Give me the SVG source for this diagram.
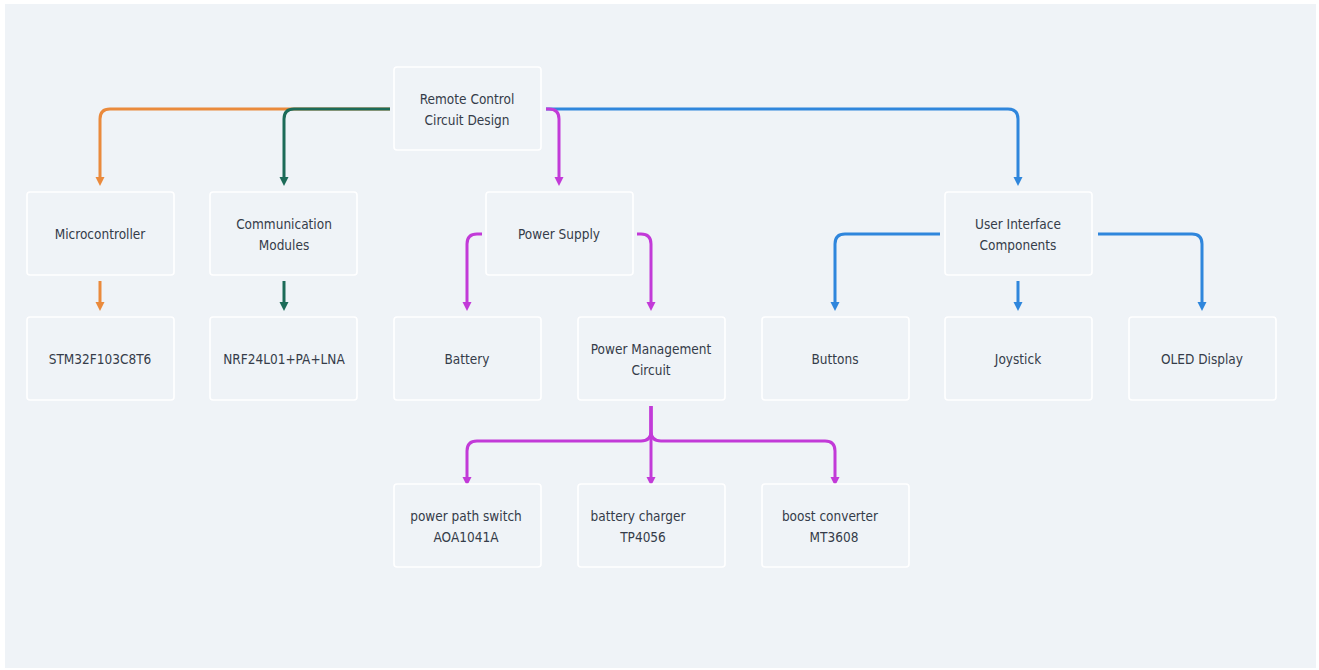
<svg xmlns="http://www.w3.org/2000/svg" width="1319" height="670" viewBox="0 0 1319 670">
<style>
.node rect{fill:#eff3f7;stroke:#ffffff;stroke-width:1.6}
.node text{font-family:"DejaVu Sans Condensed","DejaVu Sans",sans-serif;font-size:13.5px;fill:#353c49;text-anchor:middle}
.e{fill:none;stroke-width:3}
.o{stroke:#ea8a3c}.g{stroke:#1c6b58}.p{stroke:#c23ad8}.b{stroke:#2f86dc}
</style>
<defs>
<marker id="ao" markerUnits="userSpaceOnUse" markerWidth="12" markerHeight="12" refX="0" refY="6" orient="auto" viewBox="0 0 12 12"><path d="M0,1.5 L9,6 L0,10.5 Z" fill="#ea8a3c"/></marker>
<marker id="ag" markerUnits="userSpaceOnUse" markerWidth="12" markerHeight="12" refX="0" refY="6" orient="auto" viewBox="0 0 12 12"><path d="M0,1.5 L9,6 L0,10.5 Z" fill="#1c6b58"/></marker>
<marker id="ap" markerUnits="userSpaceOnUse" markerWidth="12" markerHeight="12" refX="0" refY="6" orient="auto" viewBox="0 0 12 12"><path d="M0,1.5 L9,6 L0,10.5 Z" fill="#c23ad8"/></marker>
<marker id="ab" markerUnits="userSpaceOnUse" markerWidth="12" markerHeight="12" refX="0" refY="6" orient="auto" viewBox="0 0 12 12"><path d="M0,1.5 L9,6 L0,10.5 Z" fill="#2f86dc"/></marker>
</defs>
<rect x="0" y="0" width="1319" height="670" fill="#ffffff"/>
<rect x="5" y="4" width="1311" height="664" fill="#eff3f7"/>

<g id="connectors">
<path class="e o" d="M390,109 H110 Q100,109 100,119 V177" marker-end="url(#ao)"/>
<path class="e g" d="M390,109 H294 Q284,109 284,119 V177" marker-end="url(#ag)"/>
<path class="e b" d="M546,109 H1008 Q1018,109 1018,119 V177" marker-end="url(#ab)"/>
<path class="e p" d="M546,109 H549 Q559,109 559,119 V177" marker-end="url(#ap)"/>
<path class="e o" d="M100,281 V302" marker-end="url(#ao)"/>
<path class="e g" d="M284,281 V302" marker-end="url(#ag)"/>
<path class="e p" d="M482,234 H477 Q467,234 467,244 V302" marker-end="url(#ap)"/>
<path class="e p" d="M637,234 H641 Q651,234 651,244 V302" marker-end="url(#ap)"/>
<path class="e b" d="M940,234 H845 Q835,234 835,244 V302" marker-end="url(#ab)"/>
<path class="e b" d="M1018,281 V302" marker-end="url(#ab)"/>
<path class="e b" d="M1098,234 H1192 Q1202,234 1202,244 V302" marker-end="url(#ab)"/>
<path class="e p" d="M651,406 V431 Q651,441 641,441 H477 Q467,441 467,451 V477" marker-end="url(#ap)"/>
<path class="e p" d="M651,406 V477" marker-end="url(#ap)"/>
<path class="e p" d="M651,406 V431 Q651,441 661,441 H825 Q835,441 835,451 V477" marker-end="url(#ap)"/>
</g>

<g id="root" class="node"><rect x="394" y="67" width="147" height="83" rx="3"/><text x="467" y="104">Remote Control</text><text x="467" y="125">Circuit Design</text></g>
<g id="microcontroller" class="node"><rect x="27" y="192" width="147" height="83" rx="3"/><text x="100" y="239">Microcontroller</text></g>
<g id="comm" class="node"><rect x="210" y="192" width="147" height="83" rx="3"/><text x="284" y="229">Communication</text><text x="284" y="250">Modules</text></g>
<g id="power" class="node"><rect x="486" y="192" width="147" height="83" rx="3"/><text x="559" y="239">Power Supply</text></g>
<g id="ui" class="node"><rect x="945" y="192" width="147" height="83" rx="3"/><text x="1018" y="229">User Interface</text><text x="1018" y="250">Components</text></g>
<g id="stm" class="node"><rect x="27" y="317" width="147" height="83" rx="3"/><text x="100" y="364">STM32F103C8T6</text></g>
<g id="nrf" class="node"><rect x="210" y="317" width="147" height="83" rx="3"/><text x="284" y="364">NRF24L01+PA+LNA</text></g>
<g id="battery" class="node"><rect x="394" y="317" width="147" height="83" rx="3"/><text x="467" y="364">Battery</text></g>
<g id="pmc" class="node"><rect x="578" y="317" width="147" height="83" rx="3"/><text x="651" y="354">Power Management</text><text x="651" y="375">Circuit</text></g>
<g id="buttons" class="node"><rect x="762" y="317" width="147" height="83" rx="3"/><text x="835" y="364">Buttons</text></g>
<g id="joystick" class="node"><rect x="945" y="317" width="147" height="83" rx="3"/><text x="1018" y="364">Joystick</text></g>
<g id="oled" class="node"><rect x="1129" y="317" width="147" height="83" rx="3"/><text x="1202" y="364">OLED Display</text></g>
<g id="pps" class="node"><rect x="394" y="484" width="147" height="83" rx="3"/><text x="466" y="521">power path switch</text><text x="466" y="542">AOA1041A</text></g>
<g id="charger" class="node"><rect x="578" y="484" width="147" height="83" rx="3"/><text x="638" y="521">battery charger</text><text x="643" y="542">TP4056</text></g>
<g id="boost" class="node"><rect x="762" y="484" width="147" height="83" rx="3"/><text x="830" y="521">boost converter</text><text x="834" y="542">MT3608</text></g>
</svg>
